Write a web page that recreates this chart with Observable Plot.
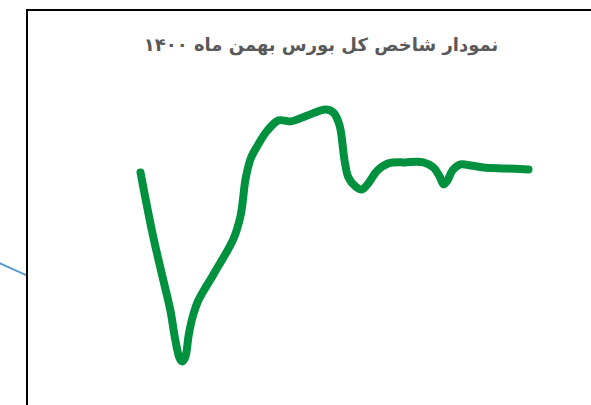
<!DOCTYPE html>
<html>
<head>
<meta charset="utf-8">
<script src="https://cdn.jsdelivr.net/npm/d3@7"></script>
<script src="https://cdn.jsdelivr.net/npm/@observablehq/plot@0.6"></script>
<style>
  html, body { margin: 0; padding: 0; background: #fff; overflow: hidden; width: 591px; height: 405px; }
  #wrap { position: relative; width: 591px; height: 405px; overflow: hidden; background: #fff; }
  #ftop { position: absolute; left: 26px; top: 9px; width: 565px; height: 2px; background: #000; }
  #fleft { position: absolute; left: 26px; top: 9px; width: 2px; height: 396px; background: #000; }
  #blue { position: absolute; left: -1px; top: 262px; width: 31px; height: 2px; background: #5b9bd5;
          transform-origin: 0 50%; transform: rotate(24deg); }
  #title { position: absolute; left: 71px; width: 500px; top: 34px; text-align: center;
           direction: rtl; font-family: "DejaVu Sans", sans-serif; font-weight: bold;
           font-size: 18px; color: #595959; white-space: nowrap; }
  #chart { position: absolute; left: 0; top: 0; width: 591px; height: 405px; }
  #chart svg { display: block; }
  #cover { position: absolute; left: 578px; top: 11px; width: 13px; height: 40px; background: #fff; z-index: 10; }
</style>
</head>
<body>
<div id="wrap">
  <div id="blue"></div>
  <div id="ftop"></div>
  <div id="fleft"></div>
  <div id="title">نمودار شاخص کل بورس بهمن ماه ۱۴۰۰</div>
  <div id="chart"></div>
  <div id="cover"></div>
</div>
<script>
// Traced position along the period (0–100) and relative index level (0–100)
const t = [0, 3.1, 5.9, 7.7, 9.0, 10.1, 10.8, 11.6, 12.4, 13.4, 14.9, 18.8, 24.0, 25.8, 27.1, 28.4, 30.2, 32.7, 35.6, 38.7, 43.0, 47.7, 49.7, 51.3, 52.6, 53.6, 55.4, 57.0, 58.5, 61.1, 63.9, 68.3, 72.9, 75.5, 77.1, 78.1, 79.1, 80.4, 82.5, 85.1, 88.4, 94.1, 100];
const level = [75.1, 51.0, 32.4, 20.6, 8.7, 1.6, 0.4, 2.4, 10.7, 17.8, 24.5, 34.8, 49.0, 58.1, 72.7, 80.6, 85.8, 91.7, 95.7, 95.3, 97.6, 100, 98.8, 93.7, 79.8, 73.1, 69.6, 68.4, 70.4, 75.9, 78.7, 79.1, 79.1, 77.1, 73.5, 70.4, 71.9, 75.9, 78.3, 77.9, 77.1, 76.7, 76.3];

const data = t.map((x, i) => ({x, y: level[i]}));

const chart = Plot.plot({
  width: 591,
  height: 405,
  marginLeft: 140,
  marginRight: 63,
  marginTop: 109,
  marginBottom: 43,
  x: {domain: [0, 100], axis: null},
  y: {domain: [0, 100], axis: null},
  style: {background: "transparent"},
  marks: [
    Plot.line(data, {x: "x", y: "y", curve: "catmull-rom", stroke: "#00913f",
                     strokeWidth: 8, strokeLinecap: "round", strokeLinejoin: "round"})
  ]
});
document.getElementById("chart").appendChild(chart);
</script>
</body>
</html>
